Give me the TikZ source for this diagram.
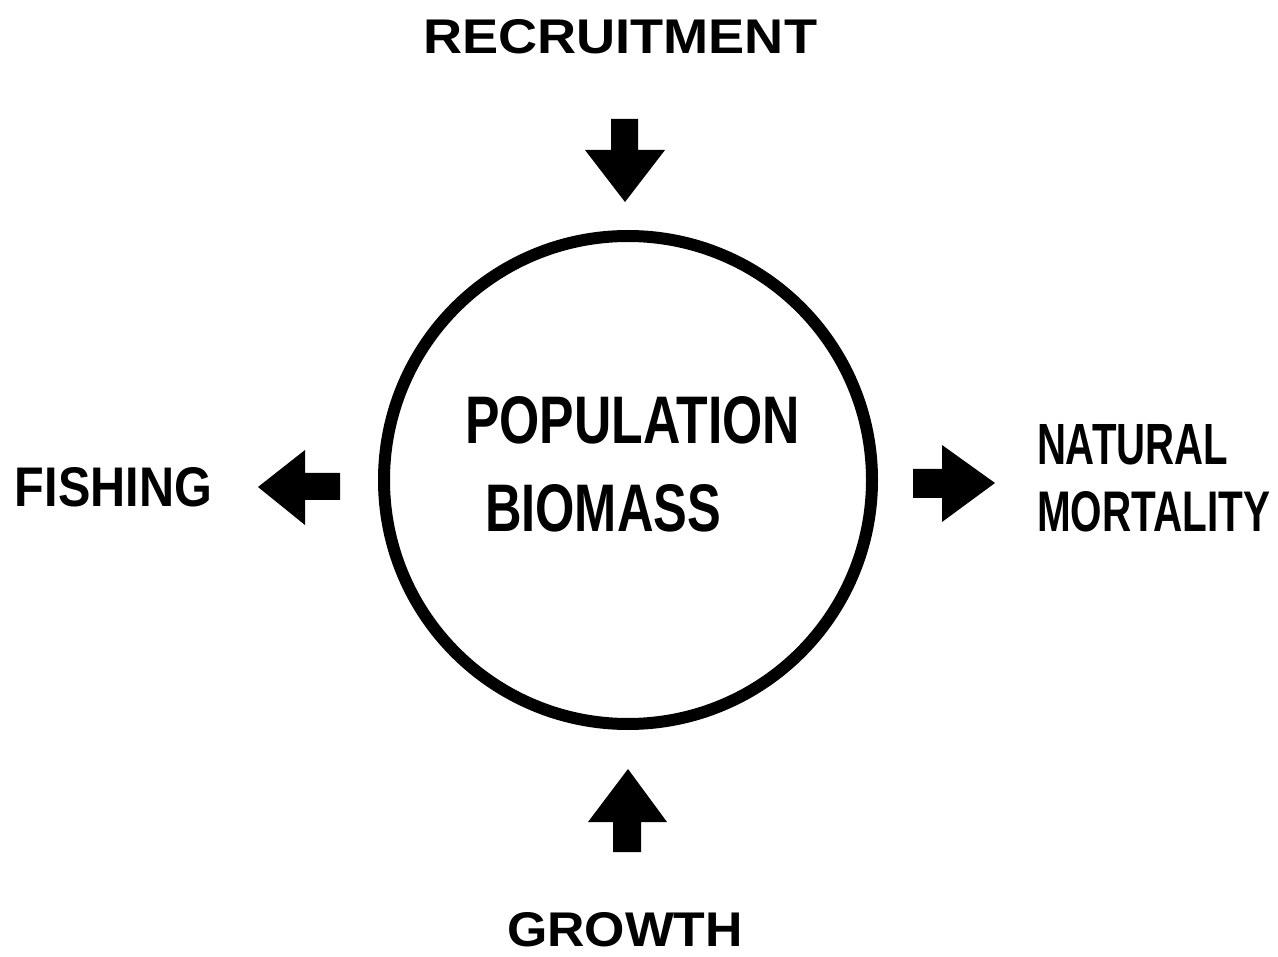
\documentclass[tikz,border=0pt]{standalone}
\usepackage{graphicx}
\usepackage{fontspec}
\setmainfont{Liberation Sans}
\begin{document}
\begin{tikzpicture}[x=1pt,y=-1pt,
  label/.style={anchor=north west, inner sep=0pt, outer sep=0pt},
  blockarrow/.style={fill=black},
  stock/.style={circle, draw=black, line width=12pt, minimum size=488pt, inner sep=0pt}]
  % page frame and white ground
  \fill[white] (0,0) rectangle (1278,957);
  \useasboundingbox (0,0) rectangle (1278,957);

  % the stock being tracked
  \node[stock] (pop) at (628,480) {};
  \node[label] (popa) at (465,396) {\resizebox{335pt}{47pt}{\bfseries POPULATION}};
  \node[label] (popb) at (485,484) {\resizebox{236pt}{47pt}{\bfseries BIOMASS}};

  % gains and losses
  \node[label] (recruit) at (423,19) {\resizebox{394pt}{34pt}{\bfseries RECRUITMENT}};
  \node[label] (growth) at (507,912) {\resizebox{236pt}{34pt}{\bfseries GROWTH}};
  \node[label] (fish) at (15,467) {\resizebox{197pt}{39pt}{\bfseries FISHING}};
  \node[label] (nat) at (1037,424) {\resizebox{191pt}{40pt}{\bfseries NATURAL}};
  \node[label] (mort) at (1037,491) {\resizebox{233pt}{40pt}{\bfseries MORTALITY}};

  % inflow from recruitment (down)
  \fill[blockarrow] (611,119) -- (638,119) -- (638,150) -- (665,150) -- (625,202)
     -- (585,150) -- (611,150) -- cycle;
  % inflow from growth (up)
  \fill[blockarrow] (613,852) -- (641,852) -- (641,822) -- (667,822) -- (628,769)
     -- (588,822) -- (613,822) -- cycle;
  % outflow to fishing (left)
  \fill[blockarrow] (340,473) -- (340,500) -- (305,500) -- (305,525) -- (258,487)
     -- (305,450) -- (305,473) -- cycle;
  % outflow to natural mortality (right)
  \fill[blockarrow] (913,469) -- (942,469) -- (942,445) -- (995,483) -- (942,522)
     -- (942,498) -- (913,498) -- cycle;
\end{tikzpicture}
\end{document}
